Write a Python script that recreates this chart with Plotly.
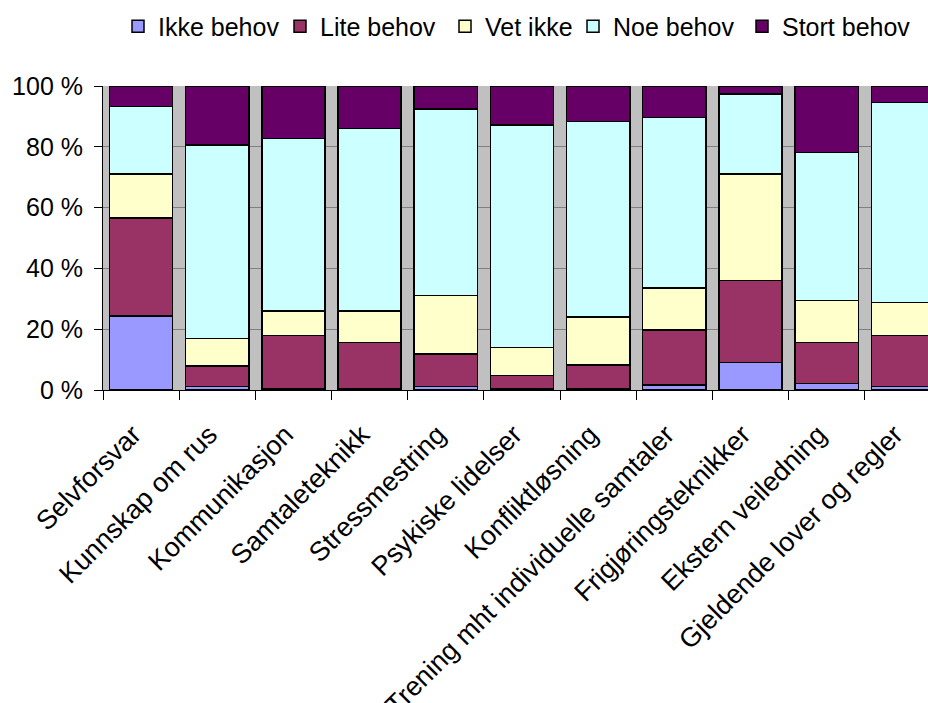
import plotly.graph_objects as go

categories = [
    "Selvforsvar", "Kunnskap om rus", "Kommunikasjon", "Samtaleteknikk",
    "Stressmestring", "Psykiske lidelser", "Konfliktløsning",
    "Trening mht individuelle samtaler", "Frigjøringsteknikker",
    "Ekstern veiledning", "Gjeldende lover og regler",
]

ikke_behov  = [24.4, 1.1, 0.3, 0.3, 1.1, 0.3, 0.3, 1.7, 9.0, 2.2, 1.1]
lite_behov  = [32.1, 6.8, 17.6, 15.4, 10.8, 4.5, 8.0, 18.1, 27.0, 13.4, 16.9]
vet_ikke    = [14.5, 9.0, 8.1, 10.3, 19.2, 9.1, 15.7, 13.8, 35.0, 13.8, 10.8]
noe_behov   = [22.2, 63.7, 56.8, 60.0, 61.4, 73.3, 64.3, 56.0, 26.4, 48.7, 65.7]
stort_behov = [6.8, 19.4, 17.2, 14.0, 7.5, 12.8, 11.7, 10.4, 2.6, 21.9, 5.5]

y_ticks = [0, 20, 40, 60, 80, 100]
y_tick_labels = ["0 %", "20 %", "40 %", "60 %", "80 %", "100 %"]

series = [
    ("Ikke behov", ikke_behov, "#9999FF"),
    ("Lite behov", lite_behov, "#993366"),
    ("Vet ikke", vet_ikke, "#FFFFCC"),
    ("Noe behov", noe_behov, "#CCFFFF"),
    ("Stort behov", stort_behov, "#660066"),
]

# left edge (px) of each legend entry along the top row
legend_left_px = [118, 280, 445, 573, 742]

W, H = 928, 703

fig = go.Figure()
legend_layout = {}
for i, (name, values, color) in enumerate(series):
    key = "legend" if i == 0 else f"legend{i + 1}"
    fig.add_trace(go.Bar(
        name=name, x=categories, y=values,
        marker=dict(color=color, line=dict(color="black", width=1.5)),
        width=0.83, legend=key,
    ))
    legend_layout[key] = dict(
        orientation="h",
        xref="container", x=legend_left_px[i] / W, xanchor="left",
        yref="container", y=1 - 26.5 / H, yanchor="middle",
        font=dict(size=25), itemwidth=30,
        bgcolor="rgba(0,0,0,0)",
    )

fig.update_layout(
    barmode="stack",
    width=W, height=H,
    margin=dict(l=103, r=0, t=86, b=313),
    paper_bgcolor="white",
    plot_bgcolor="#C0C0C0",
    font=dict(family="Liberation Sans, Arial, sans-serif", size=25, color="black"),
    showlegend=True,
    xaxis=dict(
        range=[-0.5, 10.33],
        tickangle=-45, tickfont=dict(size=27),
        ticklabelshift=-8, ticklabelstandoff=17,
        ticks="outside", tickson="boundaries", ticklen=9,
        tickcolor="black", showline=True, linecolor="black", linewidth=1,
        showgrid=False, automargin=False,
    ),
    yaxis=dict(
        range=[0, 100],
        tickmode="array", tickvals=y_ticks, ticktext=y_tick_labels,
        tickfont=dict(size=25), ticklabelstandoff=6,
        ticks="outside", ticklen=8, tickcolor="black",
        showline=True, linecolor="black", linewidth=1,
        showgrid=True, gridcolor="#808080", gridwidth=1,
        zeroline=False, automargin=False,
    ),
    **legend_layout,
)

fig.write_html("out.html")
